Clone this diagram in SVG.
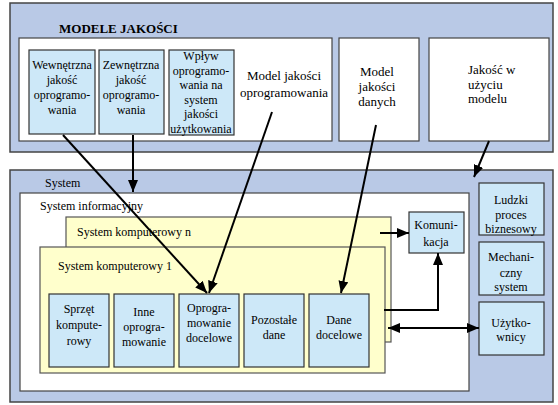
<svg xmlns="http://www.w3.org/2000/svg" width="558" height="405" viewBox="0 0 558 405">
<defs>
<marker id="ah" viewBox="0 0 12 10" refX="12" refY="5" markerWidth="12" markerHeight="10" markerUnits="userSpaceOnUse" orient="auto-start-reverse">
<path d="M0,0 L12,5 L0,10 Z" fill="#000"/>
</marker>
</defs>
<style>
.c{text-anchor:middle}
.outer{fill:#b9c9e6;stroke:#444;stroke-width:1.5}
.white{fill:#fff;stroke:#444;stroke-width:1.2}
.lb{fill:#cde8f8;stroke:#333;stroke-width:1.2}
.yl{fill:#ffffcc;stroke:#555;stroke-width:1.2}
.conn line,.conn polyline{stroke:#000;stroke-width:2;fill:none}
</style>
<rect width="558" height="405" fill="#fff"/>
<g font-family="Liberation Serif, serif" font-size="12" fill="#000">
<g id="modele">
<rect class="outer" x="10" y="3" width="543" height="149"/>
<text font-family="Liberation Serif, serif" x="59" y="33" font-weight="bold" font-size="13">MODELE JAKOŚCI</text>
</g>
<g id="model-oprogramowania">
<rect class="white" x="19" y="38" width="313" height="103"/>
<text font-family="Liberation Serif, serif" font-size="13" class="c" x="284" y="80">Model jakości</text>
<text font-family="Liberation Serif, serif" font-size="13" class="c" x="284" y="97">oprogramowania</text>
</g>
<g id="wewnetrzna">
<rect class="lb" x="29" y="50" width="66" height="84"/>
<text font-family="Liberation Serif, serif" class="c" x="62" y="69">Wewnętrzna</text>
<text font-family="Liberation Serif, serif" class="c" x="62" y="84">jakość</text>
<text font-family="Liberation Serif, serif" class="c" x="62" y="99">oprogramo-</text>
<text font-family="Liberation Serif, serif" class="c" x="62" y="114">wania</text>
</g>
<g id="zewnetrzna">
<rect class="lb" x="99" y="50" width="65" height="84"/>
<text font-family="Liberation Serif, serif" class="c" x="131" y="69">Zewnętrzna</text>
<text font-family="Liberation Serif, serif" class="c" x="131" y="84">jakość</text>
<text font-family="Liberation Serif, serif" class="c" x="131" y="99">oprogramo-</text>
<text font-family="Liberation Serif, serif" class="c" x="131" y="114">wania</text>
</g>
<g id="wplyw">
<rect class="lb" x="169" y="50" width="65" height="85"/>
<text font-family="Liberation Serif, serif" class="c" x="201" y="60">Wpływ</text>
<text font-family="Liberation Serif, serif" class="c" x="201" y="75">oprogramo-</text>
<text font-family="Liberation Serif, serif" class="c" x="201" y="89">wania na</text>
<text font-family="Liberation Serif, serif" class="c" x="201" y="104">system</text>
<text font-family="Liberation Serif, serif" class="c" x="201" y="118">jakości</text>
<text font-family="Liberation Serif, serif" class="c" x="201" y="133">użytkowania</text>
</g>
<g id="model-danych">
<rect class="white" x="339" y="38" width="80" height="103"/>
<text font-family="Liberation Serif, serif" font-size="13" class="c" x="377" y="76">Model</text>
<text font-family="Liberation Serif, serif" font-size="13" class="c" x="377" y="91">jakości</text>
<text font-family="Liberation Serif, serif" font-size="13" class="c" x="377" y="106">danych</text>
</g>
<g id="jakosc-uzyciu">
<rect class="white" x="429" y="38" width="120" height="103"/>
<text font-family="Liberation Serif, serif" font-size="13" x="468" y="74">Jakość w</text>
<text font-family="Liberation Serif, serif" font-size="13" x="468" y="89">użyciu</text>
<text font-family="Liberation Serif, serif" font-size="13" x="468" y="103">modelu</text>
</g>
<g id="system">
<rect class="outer" x="10" y="170" width="543" height="232"/>
<text font-family="Liberation Serif, serif" x="45" y="187">System</text>
</g>
<g id="system-informacyjny">
<rect class="white" x="20" y="193" width="449" height="198"/>
<text font-family="Liberation Serif, serif" x="40" y="210">System informacyjny</text>
</g>
<g id="system-komputerowy-n">
<rect class="yl" x="66" y="217" width="325" height="125"/>
<text font-family="Liberation Serif, serif" x="77" y="236">System komputerowy n</text>
</g>
<g id="system-komputerowy-1">
<rect class="yl" x="40" y="247" width="345" height="126"/>
<text font-family="Liberation Serif, serif" x="58" y="270">System komputerowy 1</text>
</g>
<g id="sprzet">
<rect class="lb" x="49" y="294" width="60" height="73"/>
<text font-family="Liberation Serif, serif" class="c" x="79" y="313">Sprzęt</text>
<text font-family="Liberation Serif, serif" class="c" x="79" y="329">kompute-</text>
<text font-family="Liberation Serif, serif" class="c" x="79" y="345">rowy</text>
</g>
<g id="inne">
<rect class="lb" x="114" y="294" width="60" height="73"/>
<text font-family="Liberation Serif, serif" class="c" x="144" y="316">Inne</text>
<text font-family="Liberation Serif, serif" class="c" x="144" y="331">oprogra-</text>
<text font-family="Liberation Serif, serif" class="c" x="144" y="346">mowanie</text>
</g>
<g id="oprogramowanie-docelowe">
<rect class="lb" x="179" y="294" width="60" height="73"/>
<text font-family="Liberation Serif, serif" class="c" x="209" y="312">Oprogra-</text>
<text font-family="Liberation Serif, serif" class="c" x="209" y="327">mowanie</text>
<text font-family="Liberation Serif, serif" class="c" x="209" y="342">docelowe</text>
</g>
<g id="pozostale">
<rect class="lb" x="244" y="294" width="60" height="73"/>
<text font-family="Liberation Serif, serif" class="c" x="274" y="324">Pozostałe</text>
<text font-family="Liberation Serif, serif" class="c" x="274" y="339">dane</text>
</g>
<g id="dane-docelowe">
<rect class="lb" x="309" y="294" width="60" height="73"/>
<text font-family="Liberation Serif, serif" class="c" x="339" y="324">Dane</text>
<text font-family="Liberation Serif, serif" class="c" x="339" y="339">docelowe</text>
</g>
<g id="komunikacja">
<rect class="lb" x="409" y="212" width="55" height="41"/>
<text font-family="Liberation Serif, serif" class="c" x="436" y="229">Komuni-</text>
<text font-family="Liberation Serif, serif" class="c" x="436" y="246">kacja</text>
</g>
<g id="ludzki">
<rect class="lb" x="479" y="183" width="65" height="52"/>
<text font-family="Liberation Serif, serif" class="c" x="511" y="204">Ludzki</text>
<text font-family="Liberation Serif, serif" class="c" x="511" y="219">proces</text>
<text font-family="Liberation Serif, serif" class="c" x="511" y="233">biznesowy</text>
</g>
<g id="mechaniczny">
<rect class="lb" x="479" y="242" width="65" height="53"/>
<text font-family="Liberation Serif, serif" class="c" x="511" y="261">Mechani-</text>
<text font-family="Liberation Serif, serif" class="c" x="511" y="277">czny</text>
<text font-family="Liberation Serif, serif" class="c" x="511" y="291">system</text>
</g>
<g id="uzytkownicy">
<rect class="lb" x="479" y="302" width="65" height="53"/>
<text font-family="Liberation Serif, serif" class="c" x="511" y="327">Użytko-</text>
<text font-family="Liberation Serif, serif" class="c" x="511" y="341">wnicy</text>
</g>
</g>
<g class="conn" id="connectors">
<line x1="63" y1="135" x2="207" y2="293" marker-end="url(#ah)"/>
<line x1="272" y1="112" x2="209" y2="293" marker-end="url(#ah)"/>
<line x1="133" y1="135" x2="133" y2="192" marker-end="url(#ah)"/>
<line x1="376" y1="125" x2="341" y2="293" marker-end="url(#ah)"/>
<line x1="489" y1="141" x2="474" y2="177" marker-end="url(#ah)"/>
<line x1="380" y1="233" x2="409" y2="233" marker-end="url(#ah)"/>
<polyline points="384,310 438,310 438,253" marker-end="url(#ah)"/>
<line x1="388" y1="328" x2="479" y2="328" marker-start="url(#ah)" marker-end="url(#ah)"/>
</g>
</svg>
